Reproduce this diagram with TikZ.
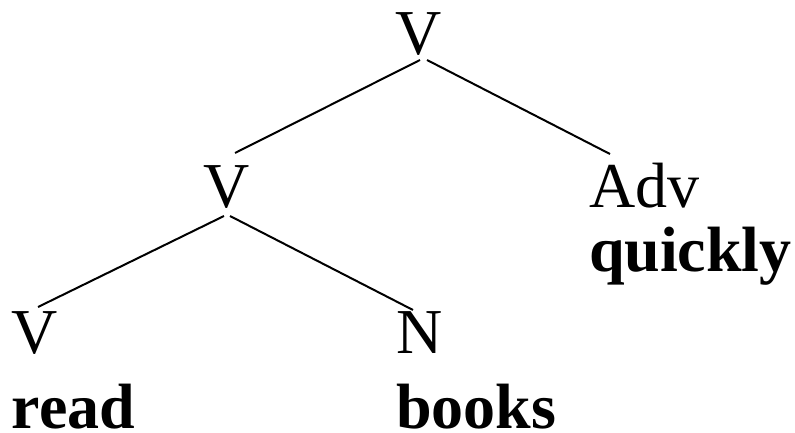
\documentclass[tikz,border=0pt]{standalone}
\usepackage{fontspec}
\setmainfont{Liberation Serif}
\usetikzlibrary{positioning}

\begin{document}
\begin{tikzpicture}[
x=1pt,y=-1pt,
cat/.style={inner sep=0pt,outer sep=0pt,font=\fontsize{64}{70}\selectfont},
word/.style={inner sep=0pt,outer sep=0pt,anchor=base west,font=\fontsize{64}{70}\selectfont\bfseries},
edge/.style={line width=2pt}]
\useasboundingbox (0,0) rectangle (795,433);
\node[cat,anchor=base] (top) at (418.5,55) {V};
\node[cat,anchor=base] (vp) at (226.5,207) {V};
\node[cat,anchor=base west] (adv) at (589,207) {Adv};
\node[cat,anchor=base west] (verb) at (12,353) {V};
\node[cat,anchor=base west] (noun) at (396,353) {N};
\node[word] (quickly) at ([yshift=-64pt]adv.base west) {quickly};
\node[word] (read) at ([yshift=-75pt]verb.base west) {read};
\node[word] (books) at ([yshift=-75pt]noun.base west) {books};
\draw[edge] ([xshift=1.5pt,yshift=-5pt]top.base) -- ([xshift=8.5pt,yshift=54pt]vp.base);
\draw[edge] ([xshift=8.5pt,yshift=-5pt]top.base) -- ([xshift=21pt,yshift=53pt]adv.base west);
\draw[edge] ([xshift=-2.5pt,yshift=-9pt]vp.base) -- ([xshift=26pt,yshift=46pt]verb.base west);
\draw[edge] ([xshift=3.5pt,yshift=-9pt]vp.base) -- ([xshift=17pt,yshift=43pt]noun.base west);
\end{tikzpicture}
\end{document}
